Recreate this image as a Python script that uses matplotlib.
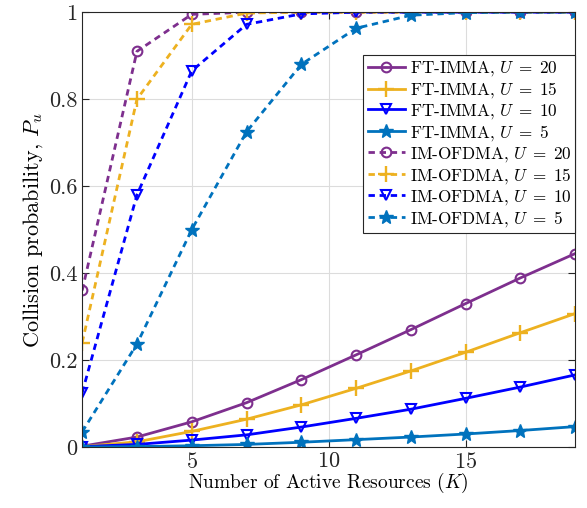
import matplotlib
matplotlib.use('Agg')
import matplotlib.pyplot as plt
import numpy as np

plt.rcParams['font.family'] = 'serif'
plt.rcParams['font.serif'] = ['cmr10']
plt.rcParams['mathtext.fontset'] = 'cm'
plt.rcParams['axes.formatter.use_mathtext'] = True

K = [1, 3, 5, 7, 9, 11, 13, 15, 17, 19]

# FT-IMMA
ft_u20 = [0.002, 0.023, 0.058, 0.102, 0.155, 0.212, 0.270, 0.330, 0.389, 0.445]
ft_u15 = [0.001, 0.012, 0.036, 0.064, 0.097, 0.135, 0.175, 0.218, 0.263, 0.307]
ft_u10 = [0.001, 0.006, 0.016, 0.028, 0.046, 0.066, 0.087, 0.112, 0.138, 0.166]
ft_u5 = [0.000, 0.001, 0.003, 0.006, 0.011, 0.017, 0.023, 0.030, 0.038, 0.047]

# IM-OFDMA
im_u20 = [0.36, 0.91, 0.995, 1.0, 1.0, 1.0, 1.0, 1.0, 1.0, 1.0]
im_u15 = [0.24, 0.80, 0.972, 0.998, 1.0, 1.0, 1.0, 1.0, 1.0, 1.0]
im_u10 = [0.125, 0.58, 0.865, 0.972, 0.996, 1.0, 1.0, 1.0, 1.0, 1.0]
im_u5 = [0.035, 0.237, 0.50, 0.725, 0.88, 0.963, 0.993, 0.999, 1.0, 1.0]

purple = '#7E2F8E'
yellow = '#EDB120'
blue = '#0000FF'
lblue = '#0072BD'

fig = plt.figure(figsize=(5.87, 5.08), dpi=100)
ax = fig.add_axes([0.140, 0.120, 0.840, 0.856])

lw = 2.0
dsh = (2.3, 1.7)
ax.plot(K, ft_u20, '-o', color=purple, lw=lw, ms=7, mfc='none', mew=1.5, label=r'FT-IMMA, $U\;=\;20$')
ax.plot(K, ft_u15, '-+', color=yellow, lw=lw, ms=11, mew=1.7, label=r'FT-IMMA, $U\;=\;15$')
ax.plot(K, ft_u10, '-v', color=blue, lw=lw, ms=7, mfc='none', mew=1.5, label=r'FT-IMMA, $U\;=\;10$')
ax.plot(K, ft_u5, '-*', color=lblue, lw=lw, ms=10, label=r'FT-IMMA, $U\;=\;5$')
ax.plot(K, im_u20, '--o', color=purple, lw=lw, ms=7, mfc='none', mew=1.5, dashes=dsh, label=r'IM-OFDMA, $U\;=\;20$')
ax.plot(K, im_u15, '--+', color=yellow, lw=lw, ms=11, mew=1.7, dashes=dsh, label=r'IM-OFDMA, $U\;=\;15$')
ax.plot(K, im_u10, '--v', color=blue, lw=lw, ms=7, mfc='none', mew=1.5, dashes=dsh, label=r'IM-OFDMA, $U\;=\;10$')
ax.plot(K, im_u5, '--*', color=lblue, lw=lw, ms=10, dashes=dsh, label=r'IM-OFDMA, $U\;=\;5$')

ax.set_xlim(1, 19)
ax.set_ylim(0, 1)
ax.set_xticks([5, 10, 15])
ax.set_yticks([0, 0.2, 0.4, 0.6, 0.8, 1])
ax.set_yticklabels(['0', '0.2', '0.4', '0.6', '0.8', '1'])
ax.tick_params(direction='in', top=True, right=True, labelsize=16, length=5, colors='#262626')
ax.grid(True, color='#dcdcdc', lw=0.8)
for s in ax.spines.values():
    s.set_color('#262626')
    s.set_linewidth(0.8)

ax.set_xlabel('Number of Active Resources ($K$)', fontsize=14, labelpad=-1)
ax.set_ylabel('Collision probability, $P_u$', fontsize=16, labelpad=3)

leg = ax.legend(loc='upper right', bbox_to_anchor=(1.0, 0.902), fontsize=12.3,
                fancybox=False, edgecolor='#262626', framealpha=1,
                handlelength=2.2, borderpad=0.25, labelspacing=0.12, handletextpad=0.25,
                borderaxespad=0)
leg.get_frame().set_linewidth(0.8)

fig.savefig('out.png', dpi=100)
